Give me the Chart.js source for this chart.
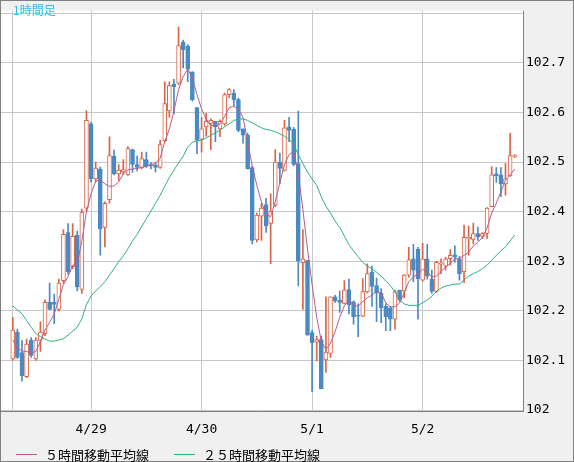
<!DOCTYPE html>
<html lang="ja">
<head>
<meta charset="utf-8">
<title>1時間足</title>
<script src="https://cdn.jsdelivr.net/npm/chart.js@4.4.1/dist/chart.umd.min.js"></script>
<style>
    html, body { margin: 0; padding: 0; background: #f0f0f0; }
    #grafico { display: block; }
</style>
</head>
<body>
<canvas id="grafico" width="574" height="462"></canvas>
<script>
// Velas de 1 hora (4/28 07:00 em diante)
const aberturas = [
    102.103, 102.157, 102.116, 102.067, 102.141, 102.103, 102.141, 102.154, 102.217, 102.217,
    102.203, 102.261, 102.358, 102.289, 102.352, 102.243, 102.407, 102.577, 102.466, 102.486,
    102.368, 102.424, 102.512, 102.476, 102.480, 102.474, 102.525, 102.495, 102.489, 102.505,
    102.495, 102.494, 102.489, 102.543, 102.603, 102.657, 102.659, 102.742, 102.734, 102.682,
    102.610, 102.546, 102.571, 102.578, 102.582, 102.567, 102.577, 102.636, 102.639, 102.626,
    102.567, 102.554, 102.489, 102.343, 102.391, 102.414, 102.376, 102.413, 102.500, 102.483,
    102.571, 102.566, 102.497, 102.297, 102.302, 102.156, 102.137, 102.142, 102.101, 102.114,
    102.228, 102.221, 102.215, 102.243, 102.218, 102.191, 102.189, 102.238, 102.278, 102.251,
    102.236, 102.209, 102.206, 102.183, 102.242, 102.240, 102.272, 102.305, 102.324, 102.262,
    102.305, 102.264, 102.239, 102.294, 102.290, 102.305, 102.313, 102.305, 102.279, 102.345,
    102.344, 102.356, 102.350, 102.356, 102.410, 102.476, 102.474, 102.456, 102.472, 102.511
];
const maximas = [
    102.187, 102.163, 102.140, 102.143, 102.146, 102.146, 102.178, 102.222, 102.256, 102.234,
    102.264, 102.364, 102.376, 102.376, 102.361, 102.405, 102.604, 102.580, 102.500, 102.490,
    102.420, 102.551, 102.524, 102.495, 102.505, 102.531, 102.526, 102.512, 102.520, 102.520,
    102.499, 102.499, 102.544, 102.662, 102.662, 102.667, 102.772, 102.746, 102.737, 102.682,
    102.610, 102.590, 102.598, 102.587, 102.582, 102.585, 102.639, 102.648, 102.646, 102.629,
    102.567, 102.558, 102.492, 102.397, 102.417, 102.427, 102.436, 102.525, 102.518, 102.584,
    102.590, 102.570, 102.603, 102.364, 102.302, 102.161, 102.149, 102.149, 102.228, 102.228,
    102.231, 102.240, 102.261, 102.264, 102.220, 102.214, 102.265, 102.295, 102.290, 102.266,
    102.245, 102.214, 102.209, 102.242, 102.242, 102.273, 102.328, 102.334, 102.328, 102.336,
    102.334, 102.282, 102.300, 102.305, 102.308, 102.323, 102.331, 102.310, 102.373, 102.371,
    102.377, 102.369, 102.358, 102.408, 102.491, 102.489, 102.489, 102.497, 102.558, 102.515
];
const minimas = [
    102.100, 102.104, 102.058, 102.065, 102.106, 102.100, 102.118, 102.150, 102.202, 102.174,
    102.200, 102.256, 102.274, 102.285, 102.240, 102.235, 102.400, 102.460, 102.460, 102.312,
    102.329, 102.417, 102.474, 102.463, 102.475, 102.473, 102.479, 102.482, 102.486, 102.489,
    102.486, 102.480, 102.487, 102.541, 102.590, 102.597, 102.656, 102.690, 102.662, 102.623,
    102.517, 102.520, 102.552, 102.525, 102.541, 102.551, 102.574, 102.630, 102.613, 102.561,
    102.538, 102.486, 102.335, 102.339, 102.342, 102.358, 102.295, 102.410, 102.456, 102.482,
    102.541, 102.492, 102.250, 102.203, 102.151, 102.037, 102.099, 102.043, 102.076, 102.106,
    102.217, 102.197, 102.214, 102.194, 102.173, 102.148, 102.188, 102.236, 102.209, 102.178,
    102.176, 102.160, 102.160, 102.163, 102.219, 102.226, 102.268, 102.259, 102.183, 102.260,
    102.264, 102.235, 102.237, 102.275, 102.282, 102.292, 102.298, 102.262, 102.257, 102.312,
    102.335, 102.342, 102.346, 102.346, 102.410, 102.459, 102.430, 102.433, 102.471, 102.509
];
const fechamentos = [
    102.161, 102.106, 102.069, 102.133, 102.110, 102.141, 102.157, 102.217, 102.203, 102.213,
    102.256, 102.354, 102.279, 102.350, 102.248, 102.399, 102.584, 102.466, 102.488, 102.365,
    102.417, 102.513, 102.476, 102.484, 102.485, 102.527, 102.495, 102.489, 102.507, 102.491,
    102.492, 102.489, 102.535, 102.618, 102.654, 102.652, 102.735, 102.726, 102.688, 102.626,
    102.544, 102.567, 102.582, 102.584, 102.571, 102.582, 102.636, 102.646, 102.626, 102.564,
    102.554, 102.486, 102.342, 102.393, 102.407, 102.371, 102.400, 102.500, 102.487, 102.569,
    102.564, 102.495, 102.300, 102.305, 102.151, 102.136, 102.142, 102.043, 102.117, 102.228,
    102.220, 102.217, 102.242, 102.212, 102.188, 102.189, 102.239, 102.275, 102.249, 102.236,
    102.206, 102.188, 102.183, 102.239, 102.222, 102.272, 102.303, 102.282, 102.265, 102.305,
    102.270, 102.239, 102.298, 102.296, 102.305, 102.312, 102.308, 102.275, 102.348, 102.348,
    102.356, 102.349, 102.356, 102.407, 102.474, 102.472, 102.456, 102.466, 102.513, 102.512
];

// Médias móveis
const media5 = [
    102.141, 102.125, 102.119, 102.118, 102.115, 102.118, 102.138, 102.161, 102.177, 102.194,
    102.223, 102.253, 102.269, 102.292, 102.295, 102.341, 102.400, 102.436, 102.461, 102.465,
    102.456, 102.451, 102.452, 102.460, 102.476, 102.484, 102.486, 102.487, 102.489, 102.492,
    102.495, 102.497, 102.508, 102.541, 102.567, 102.603, 102.646, 102.672, 102.688, 102.669,
    102.636, 102.607, 102.587, 102.574, 102.572, 102.577, 102.592, 102.610, 102.612, 102.607,
    102.590, 102.541, 102.492, 102.453, 102.420, 102.394, 102.390, 102.420, 102.459, 102.495,
    102.515, 102.521, 102.476, 102.404, 102.325, 102.253, 102.187, 102.138, 102.122, 102.135,
    102.158, 102.187, 102.210, 102.221, 102.212, 102.209, 102.219, 102.226, 102.232, 102.239,
    102.236, 102.216, 102.208, 102.208, 102.216, 102.236, 102.259, 102.268, 102.275, 102.284,
    102.278, 102.268, 102.270, 102.279, 102.289, 102.295, 102.305, 102.305, 102.312, 102.318,
    102.331, 102.338, 102.348, 102.367, 102.397, 102.417, 102.440, 102.463, 102.474, 102.486
];
const media25 = [
    102.210, 102.202, 102.194, 102.180, 102.167, 102.154, 102.148, 102.143, 102.139, 102.139,
    102.141, 102.144, 102.151, 102.159, 102.167, 102.184, 102.213, 102.230, 102.240, 102.249,
    102.259, 102.272, 102.285, 102.299, 102.311, 102.325, 102.341, 102.354, 102.370, 102.386,
    102.401, 102.417, 102.433, 102.451, 102.469, 102.484, 102.498, 102.512, 102.530, 102.540,
    102.543, 102.544, 102.549, 102.554, 102.559, 102.564, 102.571, 102.577, 102.584, 102.587,
    102.587, 102.584, 102.579, 102.574, 102.569, 102.566, 102.564, 102.561, 102.557, 102.552,
    102.546, 102.536, 102.515, 102.497, 102.480, 102.466, 102.453, 102.430, 102.411, 102.397,
    102.381, 102.368, 102.351, 102.333, 102.321, 102.309, 102.298, 102.290, 102.285, 102.278,
    102.270, 102.260, 102.251, 102.238, 102.222, 102.214, 102.211, 102.211, 102.211, 102.216,
    102.222, 102.229, 102.239, 102.246, 102.250, 102.252, 102.254, 102.254, 102.262, 102.270,
    102.275, 102.279, 102.285, 102.292, 102.302, 102.312, 102.321, 102.329, 102.341, 102.353
];

// Eixos: posição das linhas de dia e rótulos de preço
const posicoesDias = [0, 17, 41, 65, 89];
const rotulosDias = ['', '4/29', '4/30', '5/1', '5/2'];
const valoresPreco = [102.0, 102.1, 102.2, 102.3, 102.4, 102.5, 102.6, 102.7, 102.8];
const rotulosPreco = ['102', '102.1', '102.2', '102.3', '102.4', '102.5', '102.6', '102.7', ''];

const titulo = '1時間足';
const nomeMedia5 = '５時間移動平均線';
const nomeMedia25 = '２５時間移動平均線';

const VERMELHO = '#dc6446';
const AZUL = '#4a8ac4';
const ROSA = '#b95b8c';
const VERDE = '#2fb378';

// Cor de cada vela: alta = vermelho vazado, baixa = azul cheio
const alta = fechamentos.map((c, i) => c >= aberturas[i]);
const corBorda = alta.map(a => a ? VERMELHO : AZUL);
const corFundo = alta.map(a => a ? '#ffffff' : AZUL);

// Fundo, moldura, título e legenda
const moldura = {
    id: 'moldura',
    beforeDraw(chart) {
        const { ctx, chartArea: a, width, height } = chart;
        ctx.save();
        ctx.fillStyle = '#f0f0f0';
        ctx.fillRect(0, 0, width, height);
        ctx.fillStyle = '#ffffff';
        ctx.fillRect(a.left, a.top, a.right - a.left, a.bottom - a.top + 1);
        ctx.restore();
    },
    afterDraw(chart) {
        const { ctx, chartArea: a, width, height } = chart;
        ctx.save();
        ctx.strokeStyle = '#808080';
        ctx.lineWidth = 1;
        ctx.beginPath();
        ctx.moveTo(a.right + 0.5, a.top);
        ctx.lineTo(a.right + 0.5, a.bottom + 1.5);
        ctx.lineTo(a.left, a.bottom + 1.5);
        ctx.stroke();
        ctx.strokeRect(0.5, 0.5, width - 1, height - 1);

        ctx.textBaseline = 'middle';
        ctx.fillStyle = '#33bbee';
        ctx.font = '12px "Noto Sans CJK JP"';
        ctx.fillText(titulo, 13, 10);

        ctx.font = '13px "Noto Sans CJK JP"';
        let x = 16;
        chart.data.datasets.filter(d => d.type === 'line').forEach(d => {
            ctx.strokeStyle = d.borderColor;
            ctx.beginPath();
            ctx.moveTo(x, 454.5);
            ctx.lineTo(x + 21, 454.5);
            ctx.stroke();
            ctx.fillStyle = '#000000';
            ctx.fillText(d.label, x + 29, 455);
            x = x + 29 + ctx.measureText(d.label).width + 25;
        });
        ctx.restore();
    }
};

var ctxGrafico = document.getElementById('grafico').getContext('2d');
var grafico = new Chart(ctxGrafico, {
    type: 'bar',
    data: {
        datasets: [
            {
                type: 'line',
                label: nomeMedia5,
                data: media5.map((v, i) => ({ x: i, y: v })),
                borderColor: ROSA,
                borderWidth: 1,
                pointRadius: 0,
                order: 0
            },
            {
                type: 'line',
                label: nomeMedia25,
                data: media25.map((v, i) => ({ x: i, y: v })),
                borderColor: VERDE,
                borderWidth: 1,
                pointRadius: 0,
                order: 0
            },
            {
                label: 'corpo',
                data: aberturas.map((v, i) => ({ x: i, y: [v, fechamentos[i]] })),
                backgroundColor: corFundo,
                borderColor: corBorda,
                borderWidth: 1,
                borderSkipped: false,
                barThickness: 4,
                minBarLength: 1,
                grouped: false,
                order: 1
            },
            {
                label: 'pavio',
                data: minimas.map((v, i) => ({ x: i, y: [v, maximas[i]] })),
                backgroundColor: corBorda,
                borderWidth: 0,
                barThickness: 1,
                grouped: false,
                order: 2
            }
        ]
    },
    options: {
        responsive: false,
        animation: false,
        events: [],
        devicePixelRatio: 1,
        layout: { padding: { left: 1, top: 1, right: 0, bottom: 0 } },
        plugins: {
            legend: { display: false },
            tooltip: { enabled: false }
        },
        scales: {
            x: {
                type: 'linear',
                min: -2.56,
                max: 110.8,
                offset: false,
                afterBuildTicks: s => { s.ticks = posicoesDias.map(v => ({ value: v })); },
                afterFit: s => { s.height = 52; },
                grid: { color: '#c8c8c8', lineWidth: 1, drawTicks: false, offset: false },
                border: { display: false },
                ticks: {
                    autoSkip: false,
                    maxRotation: 0,
                    padding: 12,
                    color: '#000000',
                    font: { family: 'DejaVu Sans Mono', size: 13 },
                    callback: (v, i) => rotulosDias[i]
                }
            },
            y: {
                position: 'right',
                min: 102.0,
                max: 102.805,
                afterBuildTicks: s => { s.ticks = valoresPreco.map(v => ({ value: v })); },
                afterFit: s => { s.width = 51; },
                grid: { color: '#c8c8c8', lineWidth: 1, drawTicks: false },
                border: { display: false },
                ticks: {
                    padding: 3,
                    color: '#000000',
                    font: { family: 'DejaVu Sans Mono', size: 13 },
                    callback: (v, i) => rotulosPreco[i]
                }
            }
        }
    },
    plugins: [moldura]
});
</script>
</body>
</html>
